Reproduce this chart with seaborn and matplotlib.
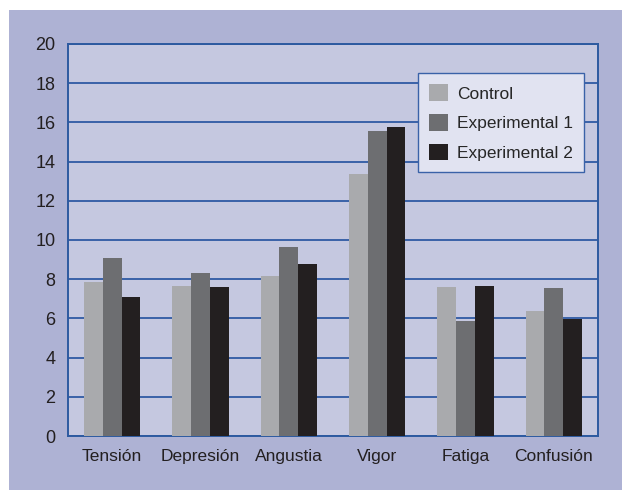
import matplotlib
matplotlib.use('Agg')
import matplotlib.pyplot as plt
import numpy as np
import pandas as pd
import seaborn as sns
from matplotlib.patches import Rectangle

#%% data
categorias = ['Tensión', 'Depresión', 'Angustia', 'Vigor', 'Fatiga', 'Confusión']
grupos = ['Control', 'Experimental 1', 'Experimental 2']
control = [7.85, 7.65, 8.15, 13.35, 7.6, 6.38]
experimental_1 = [9.1, 8.3, 9.62, 15.55, 5.87, 7.55]
experimental_2 = [7.08, 7.6, 8.75, 15.75, 7.65, 5.95]
colores = ['#a9aaad', '#6d6e71', '#231f20']

df = pd.DataFrame({'categoria': categorias * 3,
                   'grupo': np.repeat(grupos, len(categorias)),
                   'valor': control + experimental_1 + experimental_2})

sns.set_style('white')
plt.rcParams['font.family'] = ['Liberation Sans', 'DejaVu Sans']

fig = plt.figure(figsize=(6.22, 4.9), dpi=100, facecolor='white')
# outer panel
fig.patches.append(Rectangle((9 / 622, 0), 1 - 9 / 622, 480 / 490, transform=fig.transFigure,
                             facecolor='#aeb2d4', edgecolor='none', zorder=-10))
ax = fig.add_axes([68 / 622, (490 - 436) / 490, (598 - 68) / 622, (436 - 44) / 490])
ax.set_facecolor('#c5c8e0')

sns.barplot(data=df, x='categoria', y='valor', hue='grupo', palette=colores,
            width=0.64, saturation=1, linewidth=0, ax=ax, zorder=3)

ax.set_ylim(0, 20)
ax.set_yticks(np.arange(0, 21, 2))
ax.grid(axis='y', color='#3a62a8', linewidth=1.4, zorder=0)
ax.set_axisbelow(True)
for s in ax.spines.values():
    s.set_color('#2d5aa0')
    s.set_linewidth(1.4)
ax.tick_params(axis='y', length=7, color='#2d5aa0', width=1.2, labelsize=13, labelcolor='#231f20', pad=2)
ax.tick_params(axis='x', length=0, labelsize=12.5, labelcolor='#231f20', pad=9)
ax.set_xlabel('')
ax.set_ylabel('')

leg = ax.legend(loc='upper left', bbox_to_anchor=((418 - 68) / 530, (436 - 73) / 392),
                borderaxespad=0, frameon=True, fancybox=False, fontsize=12.5,
                handlelength=1.1, handleheight=1.1, labelspacing=0.72,
                borderpad=0.65, handletextpad=0.5)
leg.get_frame().set_facecolor('#e1e3f1')
leg.get_frame().set_edgecolor('#3a62a8')
leg.get_frame().set_linewidth(1.0)
leg.get_frame().set_alpha(1)

fig.savefig('out.png', dpi=100)
